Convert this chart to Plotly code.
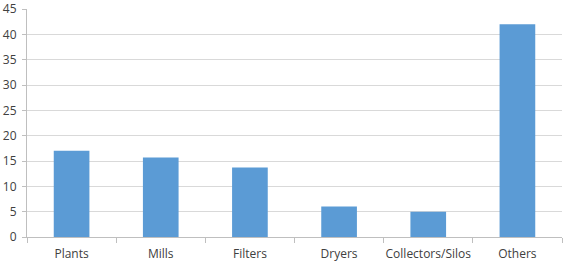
import plotly.graph_objects as go

categories = ["Plants", "Mills", "Filters", "Dryers", "Collectors/Silos", "Others"]
values = [17, 15.7, 13.7, 6, 5, 42]
y_ticks = [0, 5, 10, 15, 20, 25, 30, 35, 40, 45]

fig = go.Figure(go.Bar(x=categories, y=values, marker=dict(color="#5b9bd5", line=dict(width=0))))

font = "'Open Sans', 'Noto Sans', sans-serif"
fig.update_layout(
    width=572, height=261,
    margin=dict(l=27, r=10, t=9, b=24, autoexpand=False),
    paper_bgcolor="white", plot_bgcolor="white",
    bargap=0.6,
    showlegend=False,
    font=dict(family=font, size=12, color="#404040"),
)
fig.update_xaxes(
    showline=True, linecolor="#bfbfbf", linewidth=1,
    ticks="outside", tickson="boundaries", ticklen=5, tickcolor="#bfbfbf",
    showgrid=False, tickfont=dict(size=12, color="#404040"),
    tickangle=0, ticklabelstandoff=6, ticklabeloverflow="allow", automargin=False,
)
fig.update_yaxes(
    range=[0, 45], tickvals=y_ticks, showgrid=True, gridcolor="#d9d9d9", gridwidth=1,
    showline=True, linecolor="#bfbfbf", linewidth=1, zeroline=False,
    ticks="outside", ticklen=4, tickcolor="#bfbfbf",
    tickfont=dict(size=12, color="#404040"),
    ticklabelstandoff=3, ticklabeloverflow="allow", automargin=False,
)
fig.write_html("out.html")
